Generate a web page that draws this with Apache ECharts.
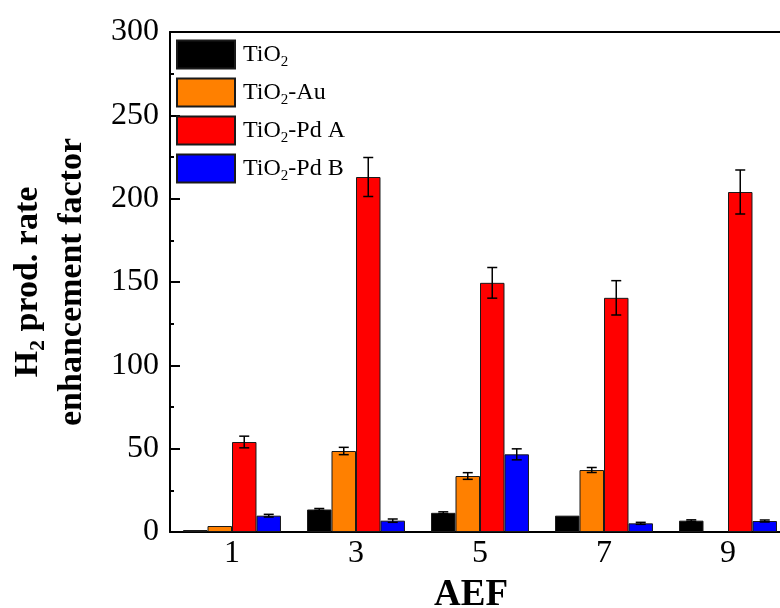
<!DOCTYPE html>
<html>
<head>
<meta charset="utf-8">
<script src="https://cdn.jsdelivr.net/npm/echarts@6/dist/echarts.min.js"></script>
<style>html,body{margin:0;padding:0;background:#fff;}#c{width:780px;height:608px;}</style>
</head>
<body>
<div id="c"></div>
<script>
var categories = ['1', '3', '5', '7', '9'];
var seriesNames = ['TiO2', 'TiO2-Au', 'TiO2-Pd A', 'TiO2-Pd B'];
var tio2 = [1.2, 13.5, 11.5, 9.8, 6.8];
var tio2Err = [0, 0.6, 0.6, 0, 0.5];
var tio2Au = [3.6, 48.6, 33.6, 37.2, null];
var tio2AuErr = [0, 2.2, 2.0, 1.5, 0];
var tio2PdA = [54, 213, 149.5, 140.5, 204];
var tio2PdAErr = [3.5, 11.7, 9.2, 10.3, 13.2];
var tio2PdB = [9.8, 6.8, 46.6, 5.2, 6.6];
var tio2PdBErr = [0.8, 1.0, 3.3, 0.6, 0.6];
var yTicks = [0, 50, 100, 150, 200, 250, 300];

var values = [tio2, tio2Au, tio2PdA, tio2PdB];
var errors = [tio2Err, tio2AuErr, tio2PdAErr, tio2PdBErr];
var colors = ['#000000', '#FF8000', '#FF0000', '#0000FF'];
var FONT = "'Liberation Serif','Times New Roman',serif";
var CAT_GAP = 0.21;

var chart = echarts.init(document.getElementById('c'), null, {renderer: 'canvas'});

var series = [];
values.forEach(function (vals, k) {
  series.push({
    name: seriesNames[k],
    type: 'bar',
    xAxisIndex: 0,
    data: vals,
    barGap: '0%',
    barCategoryGap: (CAT_GAP * 100) + '%',
    itemStyle: {color: colors[k], borderColor: '#1a1a1a', borderWidth: 1},
    emphasis: {disabled: true},
    z: 2
  });
});
values.forEach(function (vals, k) {
  var d = [];
  vals.forEach(function (v, i) {
    if (v !== null && errors[k][i] > 0) d.push([i, v - errors[k][i], v + errors[k][i]]);
  });
  series.push({
    type: 'custom',
    xAxisIndex: 0,
    data: d,
    encode: {x: 0, y: [1, 2]},
    z: 10,
    silent: true,
    renderItem: function (params, api) {
      var xi = api.value(0);
      var lo = api.coord([xi, api.value(1)]);
      var hi = api.coord([xi, api.value(2)]);
      var band = api.size([1, 0])[0];
      var bw = band * (1 - CAT_GAP) / 4;
      var x = lo[0] + bw * (k - 1.5);
      var cap = 5;
      var st = {stroke: '#000', lineWidth: 1.5};
      return {
        type: 'group',
        children: [
          {type: 'line', shape: {x1: x, y1: lo[1], x2: x, y2: hi[1]}, style: st},
          {type: 'line', shape: {x1: x - cap, y1: hi[1], x2: x + cap, y2: hi[1]}, style: st},
          {type: 'line', shape: {x1: x - cap, y1: lo[1], x2: x + cap, y2: lo[1]}, style: st}
        ]
      };
    }
  });
});

var option = {
  backgroundColor: '#fff',
  animation: false,
  grid: {left: 170, top: 32, width: 620, height: 500, containLabel: false, outerBoundsMode: 'none'},
  legend: {
    data: seriesNames,
    orient: 'vertical',
    left: 171,
    top: 34,
    padding: 5,
    itemWidth: 58,
    itemHeight: 28,
    itemGap: 7,
    icon: 'rect',
    selectedMode: false,
    formatter: function (n) { return '{p|TiO}{s|2}' + (n.length > 4 ? '{t|' + n.slice(4) + '}' : ''); },
    textStyle: {
      fontFamily: FONT, color: '#000', fontSize: 24,
      rich: {
        p: {fontFamily: FONT, fontSize: 24, color: '#000', lineHeight: 26, padding: [0, 0, 0, 3]},
        t: {fontFamily: FONT, fontSize: 24, color: '#000', lineHeight: 26},
        s: {fontFamily: FONT, fontSize: 15, color: '#000', lineHeight: 15, padding: [16, 0, 0, 0]}
      }
    }
  },
  xAxis: [
    {
      type: 'category', data: categories, position: 'bottom',
      axisLine: {lineStyle: {color: '#000', width: 2}},
      axisTick: {inside: true, alignWithLabel: true, length: 10, lineStyle: {color: '#000', width: 2}},
      axisLabel: {fontFamily: FONT, fontSize: 32, color: '#000', margin: 6},
      splitLine: {show: false},
      name: 'AEF', nameLocation: 'middle', nameGap: 45,
      nameTextStyle: {fontFamily: FONT, fontSize: 37, fontWeight: 'bold', color: '#000', padding: [0, 18, 0, 0]}
    },
    {
      type: 'category', data: categories, position: 'bottom',
      axisLine: {show: false},
      axisTick: {inside: true, length: 4, lineStyle: {color: '#000', width: 2}},
      axisLabel: {show: false},
      splitLine: {show: false}
    },
    {
      type: 'category', data: categories, position: 'top',
      axisLine: {lineStyle: {color: '#000', width: 2}},
      axisTick: {show: false},
      axisLabel: {show: false},
      splitLine: {show: false}
    }
  ],
  yAxis: {
    type: 'value', min: yTicks[0], max: yTicks[yTicks.length - 1], interval: yTicks[1] - yTicks[0],
    axisLine: {show: true, lineStyle: {color: '#000', width: 2}},
    axisTick: {show: true, inside: true, length: 10, lineStyle: {color: '#000', width: 2}},
    minorTick: {show: true, splitNumber: 2, length: 4, lineStyle: {color: '#000', width: 2}},
    axisLabel: {fontFamily: FONT, fontSize: 32, color: '#000', margin: 11},
    splitLine: {show: false},
    name: '{b|H}{s|2}{b| prod. rate}\n{b|enhancement factor}',
    nameLocation: 'middle', nameRotate: 90, nameGap: 76,
    nameTextStyle: {
      fontFamily: FONT, fontSize: 34, fontWeight: 'bold', color: '#000',
      rich: {
        b: {fontFamily: FONT, fontSize: 34, fontWeight: 'bold', color: '#000', lineHeight: 44},
        s: {fontFamily: FONT, fontSize: 22, fontWeight: 'bold', color: '#000', lineHeight: 22, padding: [20, 0, 0, 0]}
      }
    }
  },
  series: series
};
chart.setOption(option);
</script>
</body>
</html>
